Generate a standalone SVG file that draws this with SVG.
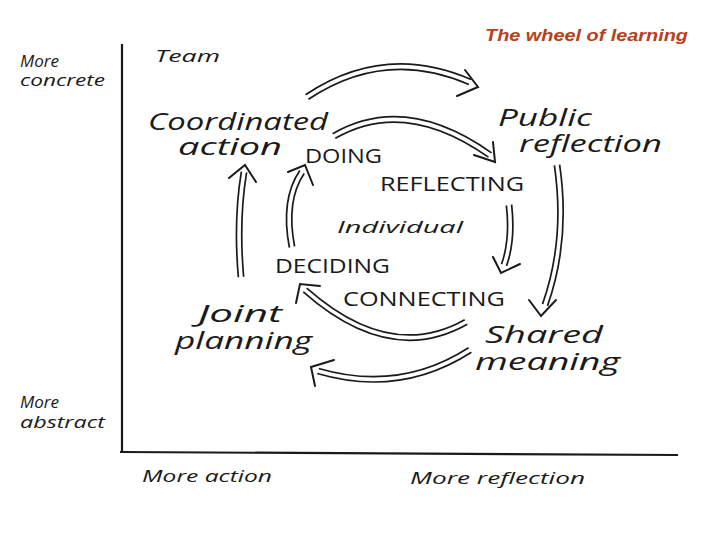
<svg xmlns="http://www.w3.org/2000/svg" width="720" height="540" viewBox="0 0 720 540">
<style>
.hand{font-family:"Open Sans","DejaVu Sans",sans-serif;font-style:italic;font-weight:400;fill:#1a1a1a}
.big{font-size:24px}
.small{font-size:17px}
.caps{font-family:"Open Sans","DejaVu Sans",sans-serif;font-size:20px;font-weight:400;fill:#1a1a1a}
.title{font-family:"Liberation Sans",Arial,sans-serif;font-style:italic;font-weight:bold;font-size:17px;fill:#b8401a}
.ax{stroke:#1a1a1a;stroke-width:2.2;fill:none}
.o{stroke:#1a1a1a;stroke-width:7;fill:none;stroke-linecap:butt}
.i{stroke:#fff;stroke-width:3.6;fill:none;stroke-linecap:square}
.h{stroke:#1a1a1a;stroke-width:2;fill:none;stroke-linejoin:miter;stroke-linecap:round}
</style>
<rect width="720" height="540" fill="#fff"/>
<text class="title" x="485" y="41" textLength="203" lengthAdjust="spacingAndGlyphs">The wheel of learning</text>
<g id="axes">
<path class="ax" d="M122,44 L122,452"/>
<path class="ax" d="M120,452 L678,455"/>
<text class="hand small" x="20" y="67">More</text>
<text class="hand small" x="20" y="86" textLength="85" lengthAdjust="spacingAndGlyphs">concrete</text>
<text class="hand small" x="20" y="408">More</text>
<text class="hand small" x="20" y="428" textLength="85" lengthAdjust="spacingAndGlyphs">abstract</text>
<text class="hand small" x="142" y="482" textLength="130" lengthAdjust="spacingAndGlyphs">More action</text>
<text class="hand small" x="410" y="484" textLength="175" lengthAdjust="spacingAndGlyphs">More reflection</text>
</g>
<g id="team"><text class="hand small" x="155" y="62" textLength="65" lengthAdjust="spacingAndGlyphs">Team</text></g>
<g id="individual"><text class="hand small" x="337" y="233" textLength="126" lengthAdjust="spacingAndGlyphs">Individual</text></g>
<g id="coordinated-action">
<text class="hand big" x="148" y="130" textLength="180" lengthAdjust="spacingAndGlyphs">Coordinated</text>
<text class="hand big" x="178" y="155" textLength="104" lengthAdjust="spacingAndGlyphs">action</text>
</g>
<g id="public-reflection">
<text class="hand big" x="498" y="126" textLength="94" lengthAdjust="spacingAndGlyphs">Public</text>
<text class="hand big" x="519" y="152" textLength="143" lengthAdjust="spacingAndGlyphs">reflection</text>
</g>
<g id="shared-meaning">
<text class="hand big" x="485" y="343" textLength="118" lengthAdjust="spacingAndGlyphs">Shared</text>
<text class="hand big" x="475" y="370" textLength="145" lengthAdjust="spacingAndGlyphs">meaning</text>
</g>
<g id="joint-planning">
<text class="hand big" x="198" y="322" textLength="84" lengthAdjust="spacingAndGlyphs">Joint</text>
<text class="hand big" x="175" y="349" textLength="137" lengthAdjust="spacingAndGlyphs">planning</text>
</g>
<g id="doing"><text class="caps" x="305" y="163" textLength="77" lengthAdjust="spacingAndGlyphs">DOING</text></g>
<g id="reflecting"><text class="caps" x="380" y="191" textLength="144" lengthAdjust="spacingAndGlyphs">REFLECTING</text></g>
<g id="deciding"><text class="caps" x="275" y="273" textLength="115" lengthAdjust="spacingAndGlyphs">DECIDING</text></g>
<g id="connecting"><text class="caps" x="343" y="306" textLength="162" lengthAdjust="spacingAndGlyphs">CONNECTING</text></g>
<g id="connectors">
<defs>
<path id="a1" d="M307,97 Q385,45 470,82"/>
<path id="a2" d="M334,136 Q405,95 490,155"/>
<path id="a3" d="M557,165 Q568,240 545,305"/>
<path id="a4" d="M509,205 Q513,240 504,265"/>
<path id="a5" d="M466,322 Q390,365 305,290"/>
<path id="a6" d="M292,247 Q283,200 302,172"/>
<path id="a7" d="M241,277 Q236,220 244,172"/>
<path id="a8" d="M470,350 Q400,395 318,371"/>
</defs>
<use href="#a1" class="o"/><use href="#a1" class="i"/>
<use href="#a2" class="o"/><use href="#a2" class="i"/>
<use href="#a3" class="o"/><use href="#a3" class="i"/>
<use href="#a4" class="o"/><use href="#a4" class="i"/>
<use href="#a5" class="o"/><use href="#a5" class="i"/>
<use href="#a6" class="o"/><use href="#a6" class="i"/>
<use href="#a7" class="o"/><use href="#a7" class="i"/>
<use href="#a8" class="o"/><use href="#a8" class="i"/>
<polyline class="h" points="465,70 478,87 457,96"/>
<polyline class="h" points="493,142 495,162 474,155"/>
<polyline class="h" points="529,300 541,316 556,300"/>
<polyline class="h" points="493,257 501,273 520,264"/>
<polyline class="h" points="320,286 300,284 296,303"/>
<polyline class="h" points="288,172 305,165 313,185"/>
<polyline class="h" points="229,178 245,165 256,182"/>
<polyline class="h" points="334,360 311,367 315,386"/>
</g>
</svg>
